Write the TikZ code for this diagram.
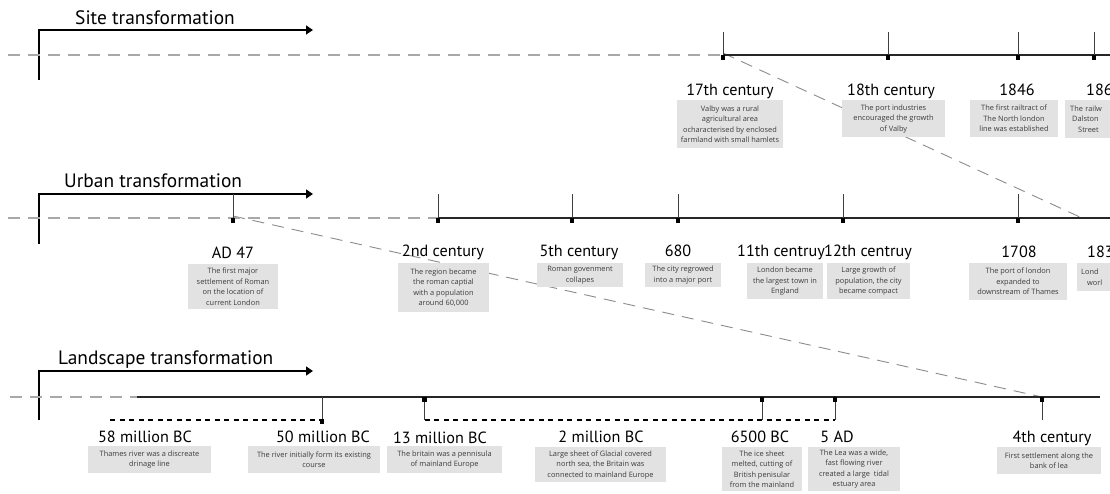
\documentclass[tikz,border=0pt]{standalone}
\usepackage{fontspec}
\setmainfont{PT Sans}
\newfontfamily\descfont{Open Sans}
\usetikzlibrary{arrows.meta}
\definecolor{boxgray}{HTML}{E2E2E2}
\definecolor{desctext}{HTML}{3C3C3C}
\definecolor{dashgray}{HTML}{A8A8A8}
\definecolor{diaggray}{HTML}{8C8C8C}
\begin{document}
\begin{tikzpicture}[x=1pt,y=-1pt,
  every node/.style={inner sep=0pt},
  ttl/.style={font=\fontsize{19.4}{22}\selectfont, anchor=base west},
  lbl/.style={font=\fontsize{16.2}{19}\selectfont, anchor=base},
  descbox/.style={fill=boxgray, text=desctext, font=\descfont\fontsize{7.4}{10.5}\selectfont, align=center, anchor=north},
  mainline/.style={line width=1.6pt, black!85},
  tickline/.style={line width=0.9pt, black!75},
  greydash/.style={line width=1.1pt, color=dashgray, dash pattern=on 12pt off 8pt},
  diagdash/.style={line width=0.9pt, color=diaggray, dash pattern=on 12pt off 8pt},
  blackdash/.style={line width=1.1pt, black, dash pattern=on 5pt off 4.5pt},
  arrowline/.style={line width=1.3pt, -{Triangle[length=7pt,width=9pt]}},
  markerbox/.style={fill=black, minimum width=4.5pt, minimum height=4.5pt, anchor=north}
]
\clip (0,0) rectangle (1110,494);
\fill[white] (0,0) rectangle (1110,494);

% ---------- coordinates ----------
\coordinate (sd0) at (8,55);
\coordinate (s17) at (723,55);
\coordinate (s18) at (888,55);
\coordinate (s1846) at (1018,55);
\coordinate (s186) at (1094,55);
\coordinate (send) at (1115,55);
\coordinate (ud0) at (8,218);
\coordinate (u47) at (233,218);
\coordinate (u2) at (438,218);
\coordinate (u5) at (572,218);
\coordinate (u680) at (678,218);
\coordinate (u12) at (843,218);
\coordinate (u1708) at (1018,218);
\coordinate (u183) at (1082,218);
\coordinate (uend) at (1115,218);
\coordinate (ld0) at (10,397);
\coordinate (lstart) at (137,397);
\coordinate (lend) at (1100,397);
\coordinate (l50) at (322,397);
\coordinate (l13) at (424.5,397);
\coordinate (l6500) at (762,397);
\coordinate (l5) at (835,397);
\coordinate (l4) at (1042,397);

% ================= diagonal links (behind boxes) =================
\draw[diagdash] ([yshift=2pt]s17) -- (u183);
\draw[diagdash] ([yshift=2pt]u47) -- (l4);

% ================= Site transformation =================
\node[ttl] (tsite) at (75,25) {Site transformation};
\coordinate (sa0) at (39,80);
\coordinate (sa1) at (313,30);
\draw[arrowline] (sa0) |- (sa1);
\draw[greydash] (sd0) -- (s17);
\draw[mainline] (s17) -- (send);
\foreach \n in {17,18,1846,186}{
  \coordinate (s\n t) at ([yshift=23pt]s\n);
  \draw[tickline] (s\n) -- (s\n t);
  \node[markerbox] (ms\n) at (s\n) {};
}
\node[lbl] (ls17) at (730,95.5) {17th century};
\node[lbl] (ls18) at (891,95.5) {18th century};
\node[lbl] (ls1846) at (1017,95.5) {1846};
\node[lbl, anchor=base west] (ls186) at (1086,95.5) {186};
\node[descbox, minimum width=106pt, minimum height=48pt] (ds17) at (730,100) {Valby was a rural\\agricultural area\\ocharacterised by enclosed\\farmland with small hamlets};
\node[descbox, minimum width=103pt, minimum height=37pt] (ds18) at (893.5,100) {The port industries\\encouraged the growth\\of Valby};
\node[descbox, minimum width=88pt, minimum height=37pt] (ds1846) at (1014,100) {The first railtract of\\The North london\\line was established};
\node[descbox, anchor=north west, text width=55pt, minimum height=38pt, align=left] (ds186) at (1065,100) {\hspace*{5pt}The railw\\\hspace*{7pt}Dalston\\\hspace*{13pt}Street};

% ================= Urban transformation =================
\node[ttl] (turban) at (64,188) {Urban transformation};
\coordinate (ua0) at (39,244);
\coordinate (ua1) at (313,194);
\draw[arrowline] (ua0) |- (ua1);
\draw[greydash] (ud0) -- (u2);
\draw[mainline] (u2) -- (uend);
\foreach \n in {47,2,5,680,12,1708}{
  \coordinate (u\n t) at ([yshift=24pt]u\n);
  \draw[tickline] (u\n) -- (u\n t);
  \node[markerbox] (mu\n) at (u\n) {};
}
\node[lbl] (lu47) at (233,258.5) {AD 47};
\node[lbl] (lu2) at (443,257) {2nd century};
\node[lbl] (lu5) at (579,257) {5th century};
\node[lbl] (lu680) at (678,257) {680};
\node[lbl] (lu11) at (781,257) {11th centruy};
\node[lbl] (lu12) at (868,257) {12th centruy};
\node[lbl] (lu1708) at (1019,257.5) {1708};
\node[lbl, anchor=base west] (lu183) at (1087,257.5) {183};
\node[descbox, minimum width=90pt, minimum height=45pt] (du47) at (233,264) {The first major\\settlement of Roman\\on the location of\\current London};
\node[descbox, minimum width=91pt, minimum height=49pt] (du2) at (443.5,263) {The region became\\the roman captial\\with a population\\around 60,000};
\node[descbox, minimum width=86pt, minimum height=24pt] (du5) at (580,263) {Roman govenment\\collapes};
\node[descbox, minimum width=76pt, minimum height=24pt] (du680) at (683,263) {The city regrowed\\into a major port};
\node[descbox, minimum width=76pt, minimum height=36pt] (du11) at (785,263) {London became\\the largest town in\\England};
\node[descbox, minimum width=83pt, minimum height=36pt] (du12) at (868.5,263) {Large growth of\\population, the city\\became compact};
\node[descbox, minimum width=98pt, minimum height=37pt] (du1708) at (1018,263) {The port of london\\expanded to\\downstream of Thames};
\node[descbox, anchor=north west, text width=43pt, minimum height=28pt, align=left] (du183) at (1077,263) {\hspace*{4pt}Lond\\\hspace*{10pt}worl};

% ================= Landscape transformation =================
\node[ttl] (tland) at (58,364) {Landscape transformation};
\coordinate (la0) at (39,420);
\coordinate (la1) at (313,371);
\draw[arrowline] (la0) |- (la1);
\draw[greydash] (ld0) -- (lstart);
\draw[mainline] (lstart) -- (lend);
\coordinate (l58b) at (110,420);
\coordinate (l50b) at (322,420);
\coordinate (l13b) at (424.5,420);
\coordinate (l6500b) at (762,420);
\coordinate (l5b) at (835,420);
\coordinate (l4b) at (1042,420);
\draw[blackdash] (l58b) -- (l50b);
\draw[blackdash] (l13b) -- (l5b);
\draw[tickline] (l50) -- (l50b);
\node[markerbox, anchor=center] (ml50) at ([yshift=-1.5pt]l50b) {};
\foreach \n in {13,6500,5,4}{
  \draw[tickline] (l\n) -- (l\n b);
  \node[markerbox] (ml\n) at (l\n) {};
}
\node[lbl] (ll58) at (145,442) {58 million BC};
\node[lbl] (ll50) at (323,442) {50 million BC};
\node[lbl] (ll13) at (440,443) {13 million BC};
\node[lbl] (ll2) at (601,442) {2 million BC};
\node[lbl] (ll6500) at (760,442) {6500 BC};
\node[lbl] (ll5) at (837,442) {5 AD};
\node[lbl] (ll4) at (1052,442.5) {4th century};
\node[descbox, minimum width=123pt, minimum height=27pt] (dl58) at (149.5,446) {Thames river was a discreate\\drinage line};
\node[descbox, minimum width=132pt, minimum height=27pt] (dl50) at (314,446) {The river initially form its existing\\course};
\node[descbox, minimum width=115pt, minimum height=27pt] (dl13) at (444.5,446) {The britain was a pennisula\\of mainland Europe};
\node[descbox, minimum width=131pt, minimum height=35pt] (dl2) at (600.5,447) {Large sheet of Glacial covered\\north sea, the Britain was\\connected to mainland Europe};
\node[descbox, minimum width=80pt, minimum height=44pt] (dl6500) at (762,447) {The ice sheet\\melted, cutting of\\British penisular\\from the mainland};
\node[descbox, minimum width=92pt, minimum height=44pt] (dl5) at (854,447) {The Lea was a wide,\\fast flowing river\\created a large\ \ tidal\\estuary area};
\node[descbox, minimum width=104pt, minimum height=27pt] (dl4) at (1049,447) {First settlement along the\\bank of lea};
\end{tikzpicture}
\end{document}
